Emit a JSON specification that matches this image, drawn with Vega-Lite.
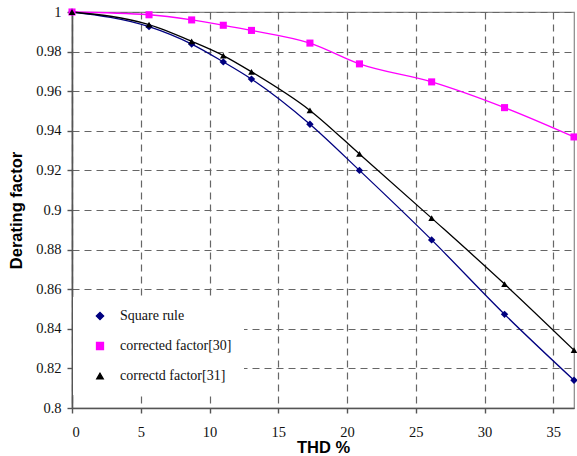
{
  "$schema": "https://vega.github.io/schema/vega-lite/v6.json",
  "width": 502,
  "height": 396,
  "autosize": {"type": "none"},
  "padding": {"left": 72, "top": 12, "right": 3, "bottom": 48},
  "background": "white",
  "config": {
    "view": {"stroke": "#888", "strokeWidth": 1.2},
    "axis": {
      "labelFont": "Liberation Serif",
      "labelFontSize": 14.5,
      "labelColor": "#111",
      "titleFont": "Liberation Sans",
      "titleFontWeight": "bold",
      "titleFontSize": 16.5,
      "titleColor": "#000",
      "grid": true,
      "gridDash": [7, 5],
      "gridColor": "#666",
      "gridWidth": 1.2,
      "domainColor": "#555",
      "domainWidth": 1.6,
      "tickColor": "#555",
      "tickWidth": 1.4,
      "tickSize": 5
    }
  },
  "data": {
    "values": [
      {"series": "Square rule", "thd": 0, "factor": 1.0},
      {"series": "Square rule", "thd": 5.6, "factor": 0.9926},
      {"series": "Square rule", "thd": 8.7, "factor": 0.9838},
      {"series": "Square rule", "thd": 11.0, "factor": 0.9748},
      {"series": "Square rule", "thd": 13.05, "factor": 0.9661},
      {"series": "Square rule", "thd": 17.3, "factor": 0.9433},
      {"series": "Square rule", "thd": 20.9, "factor": 0.92},
      {"series": "Square rule", "thd": 26.15, "factor": 0.8849},
      {"series": "Square rule", "thd": 31.45, "factor": 0.8473},
      {"series": "Square rule", "thd": 36.5, "factor": 0.814},
      {"series": "corrected factor[30]", "thd": 0, "factor": 1.0},
      {"series": "corrected factor[30]", "thd": 5.6, "factor": 0.9986},
      {"series": "corrected factor[30]", "thd": 8.7, "factor": 0.996},
      {"series": "corrected factor[30]", "thd": 11.0, "factor": 0.9933},
      {"series": "corrected factor[30]", "thd": 13.05, "factor": 0.9907},
      {"series": "corrected factor[30]", "thd": 17.3, "factor": 0.9843},
      {"series": "corrected factor[30]", "thd": 20.9, "factor": 0.9738},
      {"series": "corrected factor[30]", "thd": 26.15, "factor": 0.9647},
      {"series": "corrected factor[30]", "thd": 31.45, "factor": 0.9517},
      {"series": "corrected factor[30]", "thd": 36.5, "factor": 0.9369},
      {"series": "correctd factor[31]", "thd": 0, "factor": 1.0},
      {"series": "correctd factor[31]", "thd": 5.6, "factor": 0.9936},
      {"series": "correctd factor[31]", "thd": 8.7, "factor": 0.9852},
      {"series": "correctd factor[31]", "thd": 11.0, "factor": 0.978},
      {"series": "correctd factor[31]", "thd": 13.05, "factor": 0.9698},
      {"series": "correctd factor[31]", "thd": 17.3, "factor": 0.9503},
      {"series": "correctd factor[31]", "thd": 20.9, "factor": 0.9283},
      {"series": "correctd factor[31]", "thd": 26.15, "factor": 0.8959},
      {"series": "correctd factor[31]", "thd": 31.45, "factor": 0.8626},
      {"series": "correctd factor[31]", "thd": 36.5, "factor": 0.8292}
    ]
  },
  "encoding": {
    "x": {
      "field": "thd", "type": "quantitative",
      "scale": {"domain": [0, 36.5], "nice": false},
      "axis": {"values": [0, 5, 10, 15, 20, 25, 30, 35], "title": "THD %", "labelPadding": 12, "titlePadding": 1}
    },
    "y": {
      "field": "factor", "type": "quantitative",
      "scale": {"domain": [0.8, 1.0], "nice": false},
      "axis": {
        "values": [0.8, 0.82, 0.84, 0.86, 0.88, 0.9, 0.92, 0.94, 0.96, 0.98, 1.0],
        "format": "~g",
        "title": "Derating factor",
        "labelPadding": 6,
        "titlePadding": 11
      }
    },
    "color": {
      "field": "series", "type": "nominal",
      "scale": {
        "domain": ["Square rule", "corrected factor[30]", "correctd factor[31]"],
        "range": ["#000080", "#ff00ff", "#000000"]
      },
      "legend": {
        "orient": "none",
        "legendX": 1,
        "legendY": 285,
        "title": null,
        "padding": 12,
        "fillColor": "white",
        "labelFont": "Liberation Serif",
        "labelFontSize": 14,
        "labelColor": "#111",
        "symbolSize": 64,
        "symbolOffset": 8,
        "labelOffset": 13,
        "rowPadding": 16,
        "encode": {
          "symbols": {
            "update": {
              "shape": [
                {"test": "datum.value === 'Square rule'", "value": "M-4,0H4M0,-1L0.9,0L0,1L-0.9,0Z"},
                {"test": "datum.value === 'corrected factor[30]'", "value": "M-4,0H4M-0.85,-0.85H0.85V0.85H-0.85Z"},
                {"value": "M-4,0H4M0,-1.1L1,0.8H-1Z"}
              ],
              "stroke": [
                {"test": "datum.value === 'Square rule'", "value": "#000080"},
                {"test": "datum.value === 'corrected factor[30]'", "value": "#ff00ff"},
                {"value": "#000000"}
              ],
              "strokeWidth": {"value": 1.2}
            }
          }
        }
      }
    }
  },
  "layer": [
    {
      "mark": {"type": "line", "interpolate": "monotone", "strokeWidth": 1.3},
      "encoding": {}
    },
    {
      "mark": {"type": "point", "filled": true, "opacity": 1},
      "encoding": {
        "shape": {
          "field": "series", "type": "nominal",
          "scale": {
            "domain": ["Square rule", "corrected factor[30]", "correctd factor[31]"],
            "range": ["diamond", "square", "triangle-up"]
          },
          "legend": null
        },
        "size": {
          "field": "series", "type": "nominal",
          "scale": {
            "domain": ["Square rule", "corrected factor[30]", "correctd factor[31]"],
            "range": [55, 45, 70]
          },
          "legend": null
        }
      }
    }
  ]
}
